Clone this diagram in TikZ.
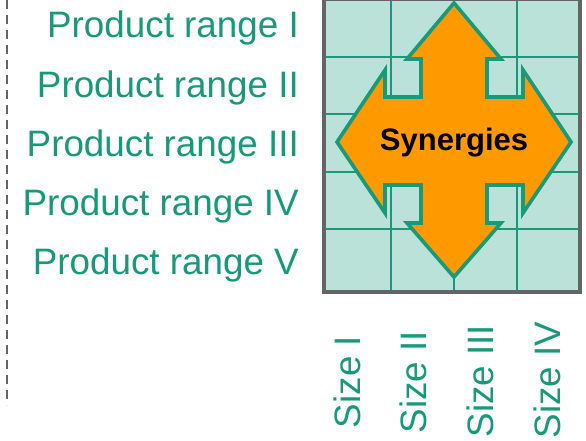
\documentclass[tikz,border=0pt]{standalone}
\usepackage{fontspec}
\setmainfont{Liberation Sans}
\usepackage{xcolor}
\definecolor{rangegreen}{RGB}{24,154,122}
\definecolor{cellbg}{RGB}{186,226,216}
\definecolor{synorange}{RGB}{255,153,0}
\definecolor{framegray}{RGB}{100,100,100}
\usepackage{tikz}
\usetikzlibrary{positioning}
\tikzset{
  lbl_range/.style={anchor=base east,inner sep=0pt,text=rangegreen,
    font=\fontsize{36.8}{40}\selectfont},
  lbl_size/.style={rotate=90,inner sep=0pt,text=rangegreen,
    font=\fontsize{36.8}{40}\selectfont},
  lbl_syn/.style={inner sep=0pt,font=\fontsize{31}{34}\selectfont\bfseries},
  cell_box/.style={draw=framegray,fill=cellbg,line width=3.5pt},
  grid_ln/.style={draw=rangegreen,line width=2.4pt},
  syn_arrow/.style={draw=rangegreen,fill=synorange,line width=3.6pt,line join=miter},
  sep_ln/.style={draw=framegray,line width=2pt,dash pattern=on 9pt off 6pt},
}

\begin{document}
\begin{tikzpicture}[x=1pt,y=-1pt]
  \useasboundingbox (0,0) rectangle (586,440);
  % left separator
  \draw[sep_ln] (7,0) -- (7,405);
  % product ranges
  \node (r1) [lbl_range] at (299,37) {Product range I};
  \node (r2) [lbl_range] at (299,97) {Product range II};
  \node (r3) [lbl_range] at (299,156) {Product range III};
  \node (r4) [lbl_range] at (299,215) {Product range IV};
  \node (r5) [lbl_range] at (299,274) {Product range V};
  % matrix of sizes x ranges
  \draw[cell_box] (324,-1) rectangle (580,292);
  \foreach \gx in {391,454,517}
    \draw[grid_ln] (\gx,0) -- (\gx,290);
  \foreach \gy in {57,114,172,229}
    \draw[grid_ln] (326,\gy) -- (578,\gy);
  \draw[framegray,line width=3.5pt] (324,-1) rectangle (580,292);
  % synergy arrows
  \draw[syn_arrow] (454,3) -- (501,59) -- (487,59) -- (487,97) -- (523,97)
    -- (523,70) -- (571,142) -- (523,213) -- (523,185) -- (487,185)
    -- (487,223) -- (501,223) -- (454,277) -- (407,223) -- (421,223)
    -- (421,185) -- (385,185) -- (385,213) -- (337,142) -- (385,70)
    -- (385,97) -- (421,97) -- (421,59) -- (407,59) -- cycle;
  \node (syn) [lbl_syn] at (454,143) {Synergies};
  % sizes
  \node (s1) [lbl_size] at (347,382) {Size I};
  \node (s2) [lbl_size] at (413,382) {Size II};
  \node (s3) [lbl_size] at (480,381) {Size III};
  \node (s4) [lbl_size] at (547,380) {Size IV};
\end{tikzpicture}
\end{document}
